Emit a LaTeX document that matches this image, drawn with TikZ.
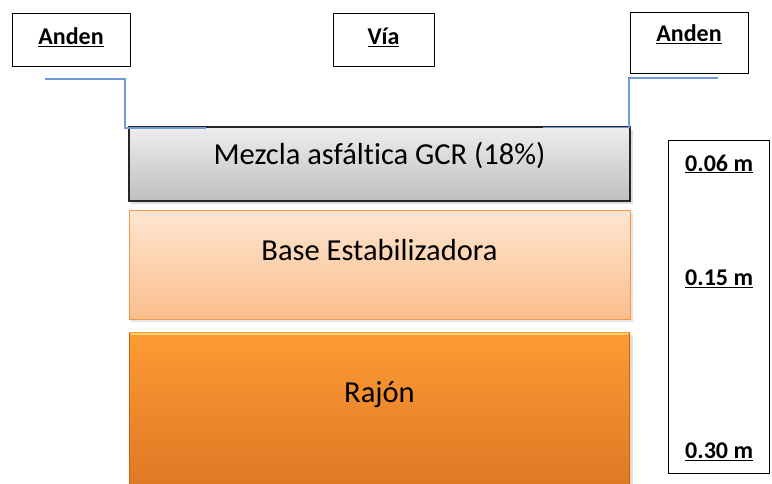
\documentclass[tikz,border=0pt]{standalone}
\usepackage{fontspec}
\setmainfont{Carlito}[Ligatures=NoCommon]
\definecolor{bluel}{HTML}{6E9BD6}
\definecolor{orbord}{HTML}{F79646}
\definecolor{peachtop}{RGB}{253,229,208}
\definecolor{peachbot}{RGB}{251,190,140}
\definecolor{orantop}{RGB}{253,155,52}
\definecolor{oranbot}{RGB}{222,120,36}
\definecolor{oranhi}{RGB}{255,214,110}
\definecolor{orandk}{RGB}{200,100,20}
\tikzset{
  lblbox/.style={draw=black, line width=1pt, fill=white, minimum width=#1, inner sep=0pt},
  smalltxt/.style={font=\fontsize{24}{28}\selectfont\bfseries, inner sep=0pt},
  layertxt/.style={font=\fontsize{30.5}{34}\selectfont, inner sep=0pt},
  road/.style={draw=bluel, line width=1.3pt},
}
\begin{document}
\begin{tikzpicture}[x=1pt,y=-1pt]
\useasboundingbox (0,0) rectangle (772,483);
\clip (0,0) rectangle (772,483);
% top labels
\node[lblbox=118pt, minimum height=53pt] (andenLbox) at (71,39.5) {};
\node[smalltxt] (andenL) at (71,37) {\underline{Anden}};
\node[lblbox=101pt, minimum height=53pt] (viabox) at (383.5,39.5) {};
\node[smalltxt] (via) at (383.5,37) {\underline{Vía}};
\node[lblbox=118pt, minimum height=61pt] (andenRbox) at (689,42.5) {};
\node[smalltxt] (andenR) at (689,34) {\underline{Anden}};
% layers
\fill[black!25, opacity=0.5] (131,130) rectangle (633,204);
\shade[top color=black!7, bottom color=black!25, draw=black!85, line width=1.2pt] (129,127) rectangle (630,201);
\node[layertxt] (mezcla) at (379.5,155) {Mezcla asfáltica GCR (18\%)};
\fill[black!20, opacity=0.5] (131,213) rectangle (633,322);
\shade[top color=peachtop, bottom color=peachbot, draw=orbord, line width=1pt] (129,210) rectangle (630,319);
\node[layertxt] (base) at (379.5,250) {Base Estabilizadora};
\fill[black!25, opacity=0.5] (131,335) rectangle (633,490);
\shade[top color=orantop, bottom color=oranbot] (129,332) rectangle (630,490);
\draw[oranhi, line width=2pt] (131,334) -- (628,334);
\draw[orandk, line width=1pt] (129.5,333) -- (129.5,490);
\draw[orandk, line width=1.5pt] (629.5,333) -- (629.5,490);
\node[layertxt] (rajon) at (379.5,395) {Rajón};
% road profile
\coordinate (l1) at (45,79);
\coordinate (l2) at (125,79);
\coordinate (l3) at (125,128);
\coordinate (l4) at (206,128);
\coordinate (r1) at (718,78);
\coordinate (r2) at (629,78);
\coordinate (r3) at (629,127.5);
\coordinate (r4) at (543,127.5);
\draw[road] (l1) -- (l2) -- (l3) -- (l4);
\draw[road] (r1) -- (r2) -- (r3) -- (r4);
% thickness box
\node[lblbox=101pt, minimum height=333pt] (thick) at (718.5,306.5) {};
\node[smalltxt, anchor=west] (t1) at (685,164) {\underline{0.06 m}};
\node[smalltxt, anchor=west] (t2) at (685,279) {\underline{0.15 m}};
\node[smalltxt, anchor=west] (t3) at (685,452) {\underline{0.30 m}};
\end{tikzpicture}
\end{document}
